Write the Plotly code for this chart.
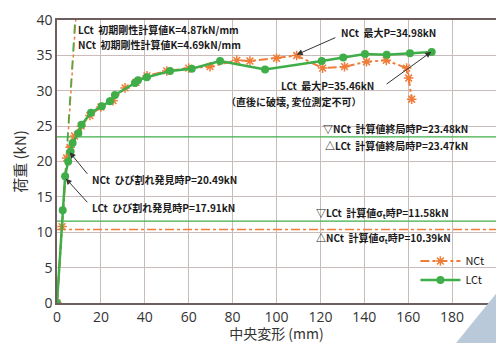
import plotly.graph_objects as go

# ---- data ----
lct_x = [0, 2.6, 3.7, 5.1, 6.2, 7.1, 9.7, 11.2, 15.5, 20.4, 24.1, 26.4, 35.5, 36.9, 40.9, 51.5, 61.4, 74.3, 94.8, 120.6, 130.4, 140.3, 150.2, 160.8, 170.7]
lct_y = [0, 13.1, 17.91, 20.0, 21.4, 22.6, 24.0, 25.2, 26.9, 27.8, 28.5, 29.4, 31.1, 31.5, 31.9, 32.8, 33.1, 34.2, 33.0, 34.2, 34.7, 35.2, 35.1, 35.3, 35.46]

nct_x = [0, 2.3, 4.4, 6.0, 8.0, 11.0, 15.0, 20.0, 25.5, 31.0, 36.0, 41.0, 50.0, 60.0, 69.7, 81.9, 87.9, 100.0, 109.2, 121.0, 131.0, 141.0, 150.0, 159.3, 160.2, 161.6]
nct_y = [0, 10.8, 20.49, 22.0, 23.6, 25.0, 26.5, 27.7, 28.6, 30.4, 31.2, 32.1, 32.8, 33.2, 33.4, 34.3, 34.2, 34.6, 34.98, 33.2, 33.4, 34.1, 34.3, 33.2, 31.8, 28.8]

k_lct = 4.87
k_nct = 4.69
p_ult_nct = 23.48
p_ult_lct = 23.47
p_sig_lct = 11.58
p_sig_nct = 10.39

x_ticks = [0, 20, 40, 60, 80, 100, 120, 140, 160, 180, 200]
y_ticks = [0, 5, 10, 15, 20, 25, 30, 35, 40]

GREEN = "#3fae49"
ORANGE = "#ef7d3a"
TXT = "Noto Sans CJK JP"

fig = go.Figure()

# initial stiffness lines
fig.add_trace(go.Scatter(x=[0, 40 / k_nct], y=[0, 40], mode="lines",
                         line=dict(color=ORANGE, width=1.5, dash="dashdot"), showlegend=False))
fig.add_trace(go.Scatter(x=[0, 40 / k_lct], y=[0, 40], mode="lines",
                         line=dict(color=GREEN, width=1.5, dash="dash"), showlegend=False))

# calculated horizontal lines
fig.add_trace(go.Scatter(x=[0, 200], y=[p_ult_lct, p_ult_lct], mode="lines",
                         line=dict(color=GREEN, width=1.3), showlegend=False))
fig.add_trace(go.Scatter(x=[0, 200], y=[p_sig_lct, p_sig_lct], mode="lines",
                         line=dict(color=GREEN, width=1.3), showlegend=False))
fig.add_trace(go.Scatter(x=[0, 200], y=[p_sig_nct, p_sig_nct], mode="lines",
                         line=dict(color=ORANGE, width=1.3, dash="dashdot"), showlegend=False))

# series
fig.add_trace(go.Scatter(x=nct_x, y=nct_y, mode="lines+markers", name="NCt",
                         line=dict(color=ORANGE, width=2, dash="dashdot"),
                         marker=dict(symbol="asterisk-open", size=8, color=ORANGE,
                                     line=dict(color=ORANGE, width=1.5))))
fig.add_trace(go.Scatter(x=lct_x, y=lct_y, mode="lines+markers", name="LCt",
                         line=dict(color=GREEN, width=2.5),
                         marker=dict(symbol="circle", size=8, color=GREEN)))

ann_font = dict(family=TXT, size=10, color="#1a1a1a")
anns = []

def txt(x, y, s, xanchor="left"):
    anns.append(dict(x=x, y=y, xref="x", yref="y", text="<b>" + s + "</b>", showarrow=False,
                     font=ann_font, xanchor=xanchor, yanchor="middle"))

def arrow(x, y, ax, ay):
    anns.append(dict(x=x, y=y, ax=ax, ay=ay, xref="x", yref="y", axref="x", ayref="y",
                     text=" ", showarrow=True, arrowhead=2, arrowsize=1.2, arrowwidth=1,
                     arrowcolor="#333333", font=dict(size=1)))

txt(8.5, 38.6, "LCt  初期剛性計算値K=4.87kN/mm")
txt(8.5, 36.5, "NCt  初期剛性計算値K=4.69kN/mm")
txt(128.5, 38.2, "NCt  最大P=34.98kN")
arrow(109.2, 35.1, 127.5, 37.6)
txt(101, 30.7, "LCt  最大P=35.46kN")
arrow(170.5, 35.5, 149.5, 30.8)
txt(76, 28.5, "（直後に破壊, 変位測定不可）")
txt(188, 24.7, "▽NCt  計算値終局時P=23.48kN", xanchor="right")
txt(188, 22.2, "△LCt  計算値終局時P=23.47kN", xanchor="right")
txt(15, 17.5, "NCt  ひび割れ発見時P=20.49kN")
arrow(5.8, 21.3, 14.5, 18.0)
txt(15, 13.5, "LCt  ひび割れ発見時P=17.91kN")
arrow(4.0, 17.6, 14.5, 14.0)
txt(117, 12.7, "▽LCt  計算値σ<sub>t</sub>時P=11.58kN")
txt(117, 9.2, "△NCt  計算値σ<sub>t</sub>時P=10.39kN")

axis_common = dict(showline=True, mirror=True, linecolor="#6e5e5e", linewidth=1.5,
                   showgrid=True, gridcolor="#cbbcbc", gridwidth=1, zeroline=False,
                   ticks="", automargin=False, ticklabeloverflow="allow",
                   tickfont=dict(family="Open Sans", size=14, color="#333333"))

fig.update_layout(
    width=496, height=335,
    margin=dict(l=49, r=8, t=12, b=40),
    paper_bgcolor="white", plot_bgcolor="white",
    annotations=anns,
    xaxis=dict(range=[0, 200], tickvals=x_ticks, ticktext=[str(v) for v in x_ticks],
               title=dict(text="中央変形 (mm)", font=dict(family=TXT, size=14, color="#333333"), standoff=5),
               **axis_common),
    yaxis=dict(range=[0, 40], tickvals=y_ticks, ticktext=[str(v) for v in y_ticks],
               title=dict(text="荷重 (kN)", font=dict(family=TXT, size=15, color="#333333"), standoff=6),
               **axis_common),
    legend=dict(x=0.985, y=0.03, xanchor="right", yanchor="bottom", bgcolor="rgba(0,0,0,0)",
                font=dict(family=TXT, size=11, color="#1a1a1a"), tracegroupgap=0,
                itemwidth=40),
    showlegend=True,
    shapes=[dict(type="path", xref="paper", yref="paper",
                 path="M 0.909 -0.141 L 1.02 0.071 L 1.02 -0.141 Z",
                 fillcolor="#b9c9d9", line=dict(width=0), layer="above")],
)

fig.write_html("out.html")
